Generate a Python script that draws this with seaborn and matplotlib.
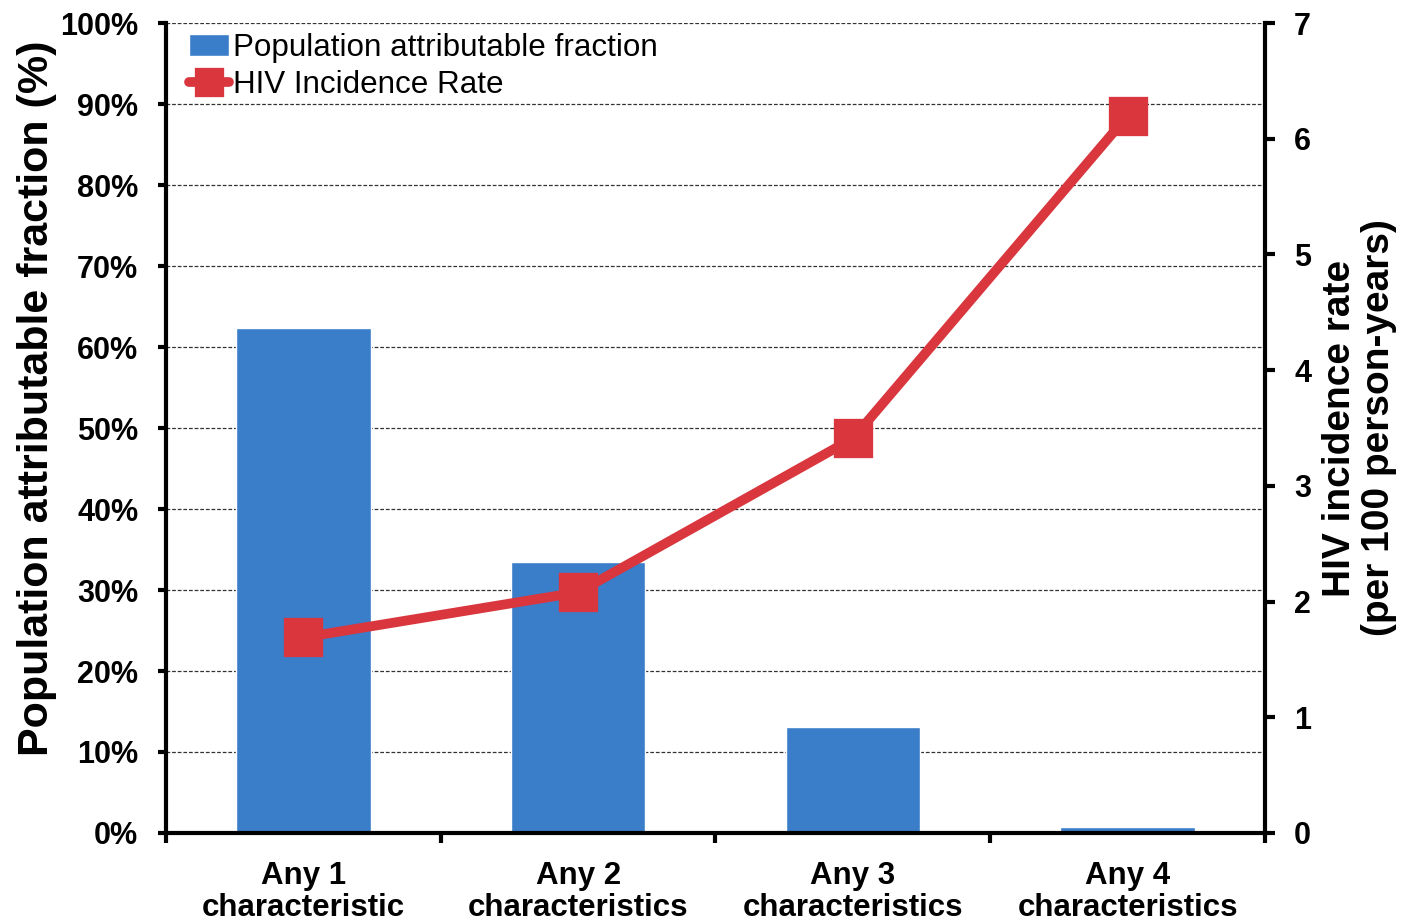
import matplotlib
matplotlib.use("Agg")
import matplotlib.pyplot as plt
import seaborn as sns
import pandas as pd
from matplotlib.ticker import FuncFormatter, FixedLocator

# Data
categories = ["Any 1\ncharacteristic", "Any 2\ncharacteristics",
              "Any 3\ncharacteristics", "Any 4\ncharacteristics"]
paf_percent = [62.3, 33.5, 13.1, 0.7]          # population attributable fraction (%)
incidence_rate = [1.69, 2.08, 3.41, 6.20]      # per 100 person-years
pct_ticks = list(range(0, 101, 10))
rate_ticks = list(range(0, 8))
legend_labels = ["Population attributable fraction", "HIV Incidence Rate"]

bar_color = "#3a7dc8"
line_color = "#d9363e"

sns.set_style("white")
plt.rcParams["font.family"] = ["Liberation Sans", "DejaVu Sans"]
for key in ("text.color", "axes.labelcolor", "xtick.color", "ytick.color"):
    plt.rcParams[key] = "black"

df = pd.DataFrame({"group": categories, "paf": paf_percent, "rate": incidence_rate})

fig = plt.figure(figsize=(14.09, 9.24), dpi=100)
ax = fig.add_axes([0.1178, 0.0985, 0.78, 0.8765])

sns.barplot(data=df, x="group", y="paf", ax=ax, color=bar_color, width=0.49,
            saturation=1, order=categories)
ax.set_axisbelow(True)

ax2 = ax.twinx()
sns.pointplot(data=df, x="group", y="rate", ax=ax2, color=line_color, order=categories,
              markers="s", errorbar=None, markersize=23, linewidth=7)

ax.set_xlim(-0.5, 3.5)
ax.set_ylim(0, 100)
ax2.set_ylim(0, 7)

# Left axis
ax.yaxis.set_major_locator(FixedLocator(pct_ticks))
ax.yaxis.set_major_formatter(FuncFormatter(lambda v, p: f"{v:.0f}%"))
ax.yaxis.grid(True, linestyle=(0, (3, 1.5)), color="#333333", linewidth=0.9)
ax.xaxis.grid(False)
ax.tick_params(axis="y", which="major", direction="out", length=6, width=3,
               color="black", pad=14, labelsize=22, left=True)
for lbl in ax.get_yticklabels():
    lbl.set_fontweight("bold")

# Bottom axis: labels at category centers, tick marks at category boundaries
ax.set_xticks(range(len(categories)))
ax.set_xticklabels(categories, fontsize=22.5, fontweight="bold", linespacing=1.1)
ax.set_xticks([i - 0.5 for i in range(len(categories) + 1)], minor=True)
ax.tick_params(axis="x", which="major", length=0, pad=20)
ax.tick_params(axis="x", which="minor", direction="out", length=7, width=3,
               color="black", bottom=True)
ax.set_xlabel("")

ax.set_ylabel("Population attributable fraction (%)", fontsize=31, fontweight="bold")
ax.yaxis.set_label_coords(-0.099, 0.537)

# Right axis
ax2.yaxis.set_major_locator(FixedLocator(rate_ticks))
ax2.tick_params(axis="y", direction="out", length=7, width=3, color="black",
                pad=14, labelsize=22, right=True)
for lbl in ax2.get_yticklabels():
    lbl.set_fontweight("bold")
ax2.grid(False)
ax2.set_ylabel("HIV incidence rate\n(per 100 person-years)", fontsize=28,
               fontweight="bold", linespacing=1.1)
ax2.yaxis.set_label_coords(1.052, 0.5)
ax2.set_xlabel("")

for a in (ax, ax2):
    a.spines["top"].set_visible(False)
for side in ("left", "bottom"):
    ax.spines[side].set_color("black")
    ax.spines[side].set_linewidth(3)
ax.spines["right"].set_visible(False)
ax2.spines["left"].set_visible(False)
ax2.spines["bottom"].set_visible(False)
ax2.spines["right"].set_color("black")
ax2.spines["right"].set_linewidth(3)

# Legend combining both series
handles = [ax.containers[0], ax2.lines[0]]
leg = ax2.legend(handles, legend_labels, loc="upper left", bbox_to_anchor=(0.012, 1.0),
                 frameon=False, fontsize=22.6, handlelength=1.3, handletextpad=0.1,
                 labelspacing=0.24, borderaxespad=0.1, borderpad=0.2,
                 markerscale=0.72)

fig.savefig("out.png", dpi=100)
